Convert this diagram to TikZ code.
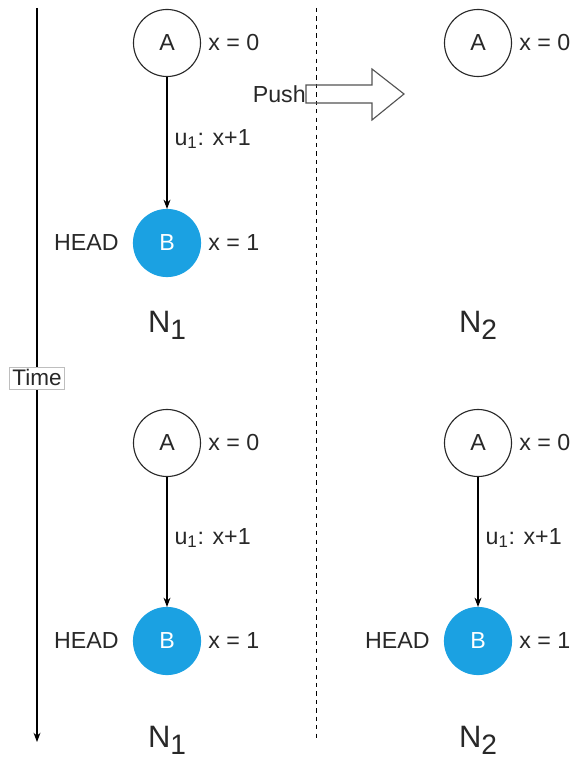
\documentclass[tikz,border=0pt]{standalone}
\usepackage{fontspec}
\setmainfont{Liberation Sans}
\usepackage{tikz}
\usetikzlibrary{arrows.meta, positioning}
\definecolor{mydark}{RGB}{40,40,40}
\definecolor{myblue}{RGB}{27,161,226}
\definecolor{mygray}{RGB}{190,190,190}
\tikzset{
  vertex/.style={circle, draw=mydark, fill=white, minimum size=1.675cm,
    inner sep=0pt, line width=0.8pt, text=mydark, font=\fontsize{16.5}{19}\selectfont},
  headvertex/.style={vertex, draw=myblue, fill=myblue, text=white},
  lbl/.style={text=mydark, inner sep=0pt, font=\fontsize{16.5}{19}\selectfont},
  netname/.style={text=mydark, inner sep=0pt, font=\fontsize{22}{26}\selectfont},
  arrow/.style={-Stealth, line width=0.8pt, color=black},
  line/.style={line width=0.8pt, color=black}
}
\newcommand{\netsub}[1]{N\raisebox{-0.17cm}{\fontsize{20}{24}\selectfont #1}}

\begin{document}
\begin{tikzpicture}[x=0.025cm, y=-0.025cm]
  \useasboundingbox (0,0) rectangle (578,761);
  % Time axis and separator
  \coordinate (ttop) at (37,8);
  \coordinate (tbot) at (37,742);
  \draw[arrow] (ttop) -- (tbot)
    node[pos=0.504, fill=white, draw=mygray, line width=0.4pt, inner sep=2pt,
      text=mydark, font=\fontsize{16}{19}\selectfont] (time) {Time};
  \coordinate (stop) at (316,8);
  \coordinate (sbot) at (316,742);
  \draw[line, dashed, line width=0.6pt] (stop) -- (sbot);
  % Upper left: N1
  \node[vertex] (a1) at (167,43) {A};
  \node[headvertex] (b1) at (167,243) {B};
  \draw[arrow] (a1) -- node[lbl, right=5pt, pos=0.47] (u1) {u\textsubscript{\large 1}: x+1} (b1);
  \node[lbl, right=0.175cm of a1] (xa1) {x = 0};
  \node[lbl, right=0.175cm of b1] (xb1) {x = 1};
  \node[lbl, left=0.35cm of b1] (h1) {HEAD};
  \node[netname] (n1) at (167,325) {\netsub{1}};
  % Upper right: N2
  \node[vertex] (a2) at (478,43) {A};
  \node[lbl, right=0.175cm of a2] (xa2) {x = 0};
  \node[netname] (n2) at (478,325) {\netsub{2}};
  % Push arrow
  \draw[line width=0.8pt, color=mydark!80]
    (306,85) -- (372,85) -- (372,69) -- (404,94) -- (372,120) -- (372,103)
    -- (306,103) -- cycle;
  \node[lbl, anchor=east] (push) at (306,94) {Push};
  % Lower left: N1
  \node[vertex] (a3) at (167,443) {A};
  \node[headvertex] (b3) at (167,641) {B};
  \draw[arrow] (a3) -- node[lbl, right=5pt, pos=0.47] (u3) {u\textsubscript{\large 1}: x+1} (b3);
  \node[lbl, right=0.175cm of a3] (xa3) {x = 0};
  \node[lbl, right=0.175cm of b3] (xb3) {x = 1};
  \node[lbl, left=0.35cm of b3] (h3) {HEAD};
  \node[netname] (n3) at (167,740) {\netsub{1}};
  % Lower right: N2
  \node[vertex] (a4) at (478,443) {A};
  \node[headvertex] (b4) at (478,641) {B};
  \draw[arrow] (a4) -- node[lbl, right=5pt, pos=0.47] (u4) {u\textsubscript{\large 1}: x+1} (b4);
  \node[lbl, right=0.175cm of a4] (xa4) {x = 0};
  \node[lbl, right=0.175cm of b4] (xb4) {x = 1};
  \node[lbl, left=0.35cm of b4] (h4) {HEAD};
  \node[netname] (n4) at (478,740) {\netsub{2}};
\end{tikzpicture}
\end{document}
